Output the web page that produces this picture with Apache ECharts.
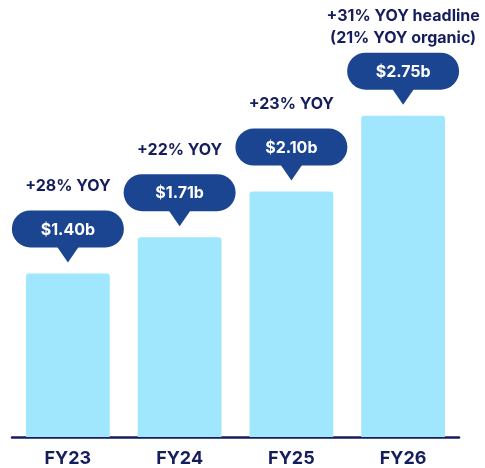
<!DOCTYPE html>
<html>
<head>
<meta charset="utf-8">
<script src="https://cdn.jsdelivr.net/npm/echarts@6/dist/echarts.min.js"></script>
<style>
  html, body { margin: 0; padding: 0; background: #fff; }
  #main { width: 485px; height: 468px; }
</style>
</head>
<body>
<div id="main"></div>
<script>
// fiscal years and revenue (billions)
const years = ['FY23', 'FY24', 'FY25', 'FY26'];
const revenue = [1.40, 1.71, 2.10, 2.75];
const valueLabels = ['$1.40b', '$1.71b', '$2.10b', '$2.75b'];
const yoyLabels = ['+28% YOY', '+22% YOY', '+23% YOY', '+31% YOY headline\n(21% YOY organic)'];

const navy = '#161d5c';
const bubbleBlue = '#1b4591';
const barColor = '#a0e6fd';
const font = 'Inter, Roboto, sans-serif';

const chart = echarts.init(document.getElementById('main'), null, { renderer: 'canvas' });

// bubble + yoy text above each bar
function renderCallout(params, api) {
    const idx = api.value(0);
    const pt = api.coord([idx, api.value(1)]);
    const cx = pt[0];
    const tipY = pt[1] - 11;
    const bw = 112, bh = 37;
    const bTop = pt[1] - 26 - bh;
    const yoy = yoyLabels[idx];
    const lines = yoy.split('\n').length;
    // multi-line headline sits tighter to the bubble
    const gap = lines > 1 ? 3 : 13;
    return {
        type: 'group',
        children: [
            {
                type: 'polygon',
                shape: { points: [[cx - 11, bTop + bh - 1], [cx + 11, bTop + bh - 1], [cx, tipY]] },
                style: { fill: bubbleBlue }
            },
            {
                type: 'rect',
                shape: { x: cx - bw / 2, y: bTop, width: bw, height: bh, r: bh / 2 },
                style: { fill: bubbleBlue }
            },
            {
                type: 'text',
                style: {
                    x: cx, y: bTop + bh / 2 + 1,
                    text: valueLabels[idx],
                    fill: '#fff',
                    font: 'bold 16px ' + font,
                    align: 'center', verticalAlign: 'middle'
                }
            },
            {
                type: 'text',
                style: {
                    x: cx, y: bTop - gap,
                    text: yoy,
                    fill: navy,
                    font: 'bold 16px ' + font,
                    lineHeight: 22,
                    align: 'center', verticalAlign: 'bottom'
                }
            }
        ]
    };
}

const option = {
    animation: false,
    grid: { left: 12, right: 26, top: 28, bottom: 31 },
    xAxis: {
        type: 'category',
        data: years,
        axisLine: { lineStyle: { color: navy, width: 2.5 } },
        axisTick: { show: false },
        axisLabel: {
            color: navy,
            fontFamily: font,
            fontWeight: 'bold',
            fontSize: 18,
            margin: 13
        }
    },
    yAxis: {
        type: 'value',
        min: 0,
        max: 3.5,
        show: false,
        splitLine: { show: false }
    },
    series: [
        {
            type: 'bar',
            data: revenue,
            barWidth: '75%',
            itemStyle: { color: barColor, borderRadius: [3, 3, 0, 0] },
            z: 2
        },
        {
            type: 'custom',
            data: revenue.map((v, i) => [i, v]),
            renderItem: renderCallout,
            z: 3
        }
    ]
};

chart.setOption(option);
</script>
</body>
</html>
